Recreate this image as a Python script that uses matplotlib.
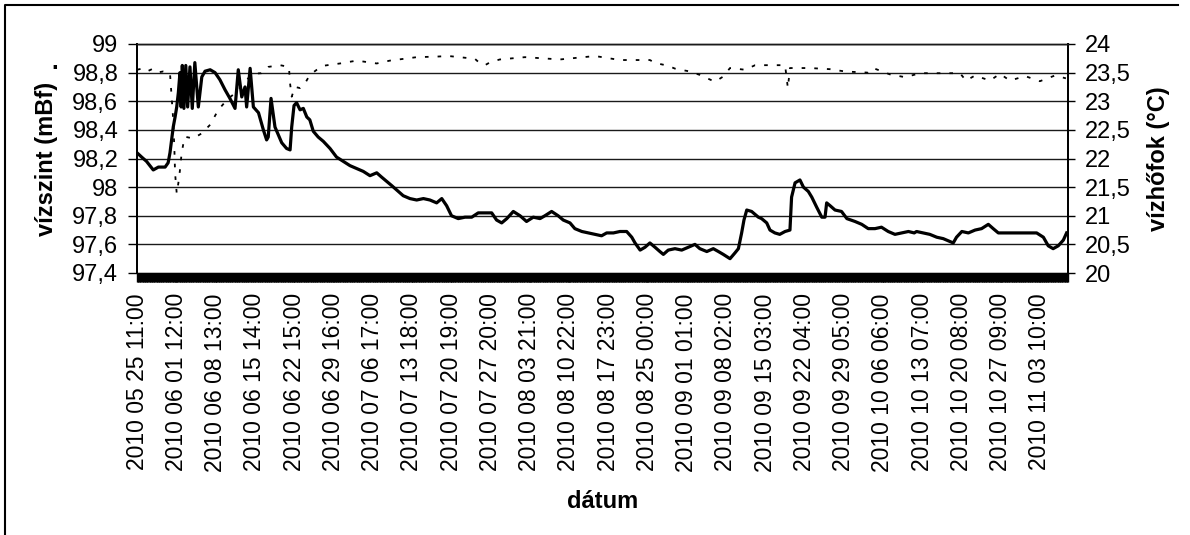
import numpy as np
import matplotlib.pyplot as plt
from matplotlib.ticker import MultipleLocator, FixedLocator, FuncFormatter
from matplotlib.lines import Line2D

plt.rcParams['font.family'] = ['Liberation Sans', 'DejaVu Sans']
plt.rcParams['font.size'] = 17

# category labels, one every 169 hourly records
tick_labels = [
    '2010 05 25 11:00', '2010 06 01 12:00', '2010 06 08 13:00', '2010 06 15 14:00',
    '2010 06 22 15:00', '2010 06 29 16:00', '2010 07 06 17:00', '2010 07 13 18:00',
    '2010 07 20 19:00', '2010 07 27 20:00', '2010 08 03 21:00', '2010 08 10 22:00',
    '2010 08 17 23:00', '2010 08 25 00:00', '2010 09 01 01:00', '2010 09 08 02:00',
    '2010 09 15 03:00', '2010 09 22 04:00', '2010 09 29 05:00', '2010 10 06 06:00',
    '2010 10 13 07:00', '2010 10 20 08:00', '2010 10 27 09:00', '2010 11 03 10:00',
]
n_records = 4008
label_step = 169

# water level (mBf), record index -> value
level_idx = [0, 20, 41, 70, 92, 121, 134, 142, 149, 156, 164, 171, 178, 185, 190, 195,
             202, 210, 218, 228, 238, 249, 264, 279, 293, 315, 336, 357, 379, 400, 422,
             436, 451, 465, 472, 487, 501, 523, 544, 558, 565, 577, 594, 623, 644, 659,
             666, 676, 687, 702, 716, 731, 744, 759, 780, 802, 831, 859, 888, 917, 946,
             974, 1003, 1032, 1053, 1075, 1097, 1118, 1146, 1175, 1204, 1233, 1261, 1290,
             1312, 1333, 1354, 1383, 1412, 1441, 1469, 1498, 1527, 1548, 1570, 1592, 1620,
             1649, 1677, 1706, 1735, 1756, 1785, 1813, 1835, 1864, 1885, 1915, 1943, 1972,
             2000, 2022, 2051, 2079, 2108, 2130, 2144, 2166, 2187, 2208, 2230, 2251, 2266,
             2287, 2316, 2345, 2374, 2402, 2423, 2453, 2481, 2503, 2524, 2553, 2574, 2589,
             2603, 2613, 2625, 2646, 2675, 2689, 2711, 2725, 2746, 2767, 2790, 2811, 2818,
             2833, 2854, 2869, 2890, 2905, 2926, 2948, 2962, 2969, 2984, 3005, 3033, 3056,
             3091, 3120, 3148, 3177, 3205, 3234, 3263, 3292, 3321, 3346, 3356, 3385, 3413,
             3443, 3471, 3500, 3514, 3528, 3551, 3579, 3608, 3636, 3665, 3686, 3708, 3744,
             3787, 3830, 3873, 3902, 3923, 3944, 3966, 3988, 4002]
level = [98.24, 98.21, 98.18, 98.12, 98.14, 98.14, 98.17, 98.24, 98.33, 98.42, 98.49, 98.56,
         98.66, 98.80, 98.56, 98.85, 98.55, 98.85, 98.56, 98.84, 98.55, 98.87, 98.56, 98.77,
         98.81, 98.82, 98.80, 98.75, 98.68, 98.62, 98.55, 98.82, 98.63, 98.70, 98.56, 98.83,
         98.56, 98.52, 98.40, 98.33, 98.35, 98.62, 98.42, 98.31, 98.27, 98.26, 98.42, 98.57,
         98.59, 98.54, 98.55, 98.49, 98.47, 98.39, 98.35, 98.32, 98.27, 98.21, 98.18, 98.15,
         98.13, 98.11, 98.08, 98.10, 98.07, 98.04, 98.01, 97.98, 97.94, 97.92, 97.91, 97.92,
         97.91, 97.89, 97.92, 97.87, 97.80, 97.78, 97.79, 97.79, 97.82, 97.82, 97.82, 97.77,
         97.75, 97.78, 97.83, 97.80, 97.76, 97.79, 97.78, 97.80, 97.83, 97.80, 97.77, 97.75,
         97.71, 97.69, 97.68, 97.67, 97.66, 97.68, 97.68, 97.69, 97.69, 97.65, 97.61, 97.56,
         97.58, 97.61, 97.58, 97.55, 97.53, 97.56, 97.57, 97.56, 97.58, 97.60, 97.57, 97.55,
         97.57, 97.55, 97.53, 97.50, 97.54, 97.57, 97.68, 97.77, 97.84, 97.83, 97.79, 97.78,
         97.75, 97.70, 97.68, 97.67, 97.69, 97.70, 97.93, 98.03, 98.05, 98.00, 97.97, 97.93,
         97.86, 97.79, 97.79, 97.89, 97.87, 97.84, 97.83, 97.78, 97.76, 97.74, 97.71, 97.71,
         97.72, 97.69, 97.67, 97.68, 97.69, 97.68, 97.69, 97.68, 97.67, 97.65, 97.64, 97.62,
         97.61, 97.65, 97.69, 97.68, 97.70, 97.71, 97.74, 97.71, 97.68, 97.68, 97.68, 97.68,
         97.68, 97.65, 97.59, 97.57, 97.59, 97.63, 97.68]

# water temperature (°C)
temp_idx = [0, 21, 43, 64, 86, 112, 142, 149, 156, 161, 164, 171, 178, 185, 192, 200, 207,
            242, 279, 315, 350, 393, 426, 465, 500, 536, 565, 616, 654, 659, 666, 680, 702,
            723, 744, 774, 802, 874, 946, 1032, 1089, 1204, 1290, 1341, 1412, 1455, 1477,
            1498, 1520, 1562, 1670, 1821, 1972, 2079, 2208, 2230, 2286, 2316, 2380, 2423,
            2488, 2523, 2553, 2618, 2661, 2790, 2802, 2811, 2897, 2984, 3048, 3147, 3169,
            3241, 3307, 3371, 3543, 3569, 3608, 3672, 3715, 3758, 3823, 3887, 3952, 3999]
temp = [23.55, 23.57, 23.52, 23.56, 23.50, 23.52, 23.49, 23.08, 22.67, 22.15, 21.74, 21.39,
        21.57, 21.80, 22.09, 22.27, 22.38, 22.35, 22.44, 22.59, 22.85, 23.05, 23.15, 23.35,
        23.48, 23.49, 23.60, 23.63, 23.60, 23.31, 23.08, 23.25, 23.23, 23.31, 23.46, 23.55,
        23.62, 23.66, 23.71, 23.66, 23.71, 23.77, 23.78, 23.79, 23.76, 23.74, 23.66, 23.63,
        23.68, 23.73, 23.77, 23.73, 23.79, 23.72, 23.72, 23.67, 23.62, 23.57, 23.52, 23.46,
        23.34, 23.43, 23.58, 23.55, 23.63, 23.63, 23.23, 23.58, 23.58, 23.56, 23.52, 23.50,
        23.58, 23.47, 23.42, 23.49, 23.49, 23.36, 23.45, 23.36, 23.48, 23.36, 23.44, 23.35,
        23.45, 23.40]

level_ticks = [97.4, 97.6, 97.8, 98.0, 98.2, 98.4, 98.6, 98.8, 99.0]
temp_ticks = [20, 20.5, 21, 21.5, 22, 22.5, 23, 23.5, 24]


def comma(v, pos=None):
    return f'{round(v, 1):g}'.replace('.', ',')


fig = plt.figure(figsize=(11.9, 5.35), dpi=100)
ax = fig.add_axes([137 / 1190, 1 - 273 / 535, 931 / 1190, 229 / 535])
ax2 = ax.twinx()

ax.plot(level_idx, level, '-', color='black', lw=2.3, zorder=3)
ax2.plot(temp_idx, temp, color='black', lw=1.3, linestyle=(0, (2, 5)), zorder=3)

ax.set_xlim(0, n_records)
ax.set_ylim(97.4, 99)
ax2.set_ylim(20, 24)

ax.xaxis.set_major_locator(FixedLocator(np.arange(len(tick_labels)) * label_step))
ax.set_xticklabels(tick_labels, rotation=90, fontsize=16.5)
ax.xaxis.set_minor_locator(MultipleLocator(3))
ax.tick_params(axis='x', which='both', length=6.5, width=1, pad=8, direction='out')

ax.yaxis.set_major_locator(FixedLocator(level_ticks))
ax.yaxis.set_major_formatter(FuncFormatter(comma))
ax.tick_params(axis='y', length=6.5, width=1, pad=7)
ax2.yaxis.set_major_locator(FixedLocator(temp_ticks))
ax2.yaxis.set_major_formatter(FuncFormatter(comma))
ax2.tick_params(axis='y', length=5, width=1, pad=7)

ax.yaxis.grid(True, color='#1a1a1a', lw=1)
ax.set_axisbelow(True)
for a in (ax, ax2):
    a.spines['top'].set_color('#1a1a1a')
    a.spines['top'].set_linewidth(1)
    a.spines['left'].set_linewidth(1.3)
    a.spines['right'].set_linewidth(1.3)

ax.set_ylabel('vízszint (mBf)', fontweight='bold')
ax.yaxis.set_label_coords(-0.0967, 0.5)
ax.yaxis.label.set_va('center')
ax2.set_ylabel('vízhőfok (°C)', fontweight='bold')
ax2.yaxis.set_label_coords(1.0967, 0.5)
ax2.yaxis.label.set_va('center')
ax.set_xlabel('dátum', fontweight='bold')
ax.xaxis.set_label_coords(0.5, -1.0)
ax.xaxis.label.set_va('center')

fig.text(55 / 1190, 1 - 62 / 535, '.', ha='center', va='center', fontweight='bold')

# chart frame (only left and top edges fall inside the image)
fig.add_artist(Line2D([5 / 1190, 5 / 1190, 1178 / 1190], [0, 1 - 5 / 535, 1 - 5 / 535],
                      color='black', lw=1.5))

fig.savefig('out.png', dpi=100)
